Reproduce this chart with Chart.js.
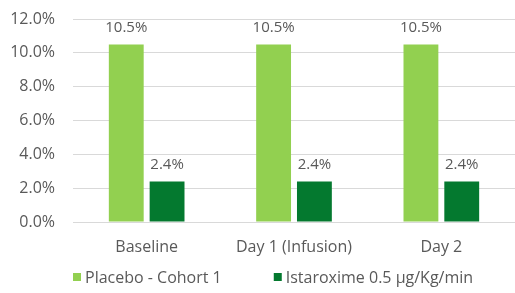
<!DOCTYPE html>
<html>
<head>
<meta charset="utf-8">
<script src="https://cdn.jsdelivr.net/npm/chart.js@4/dist/chart.umd.min.js"></script>
<style>
  html, body { margin: 0; padding: 0; background: #fff; }
  #wrap { width: 515px; height: 293px; }
</style>
</head>
<body>
<div id="wrap"><canvas id="chart" width="515" height="293"></canvas></div>
<script>
const categories = ['Baseline', 'Day 1 (Infusion)', 'Day 2'];
const placeboValues = [10.5, 10.5, 10.5];
const istaroximeValues = [2.4, 2.4, 2.4];
const seriesNames = ['Placebo - Cohort 1', 'Istaroxime 0.5 µg/Kg/min'];
const seriesColors = ['#92D050', '#04792F'];
const yMin = 0;
const yMax = 12;
const yStep = 2;

const FONT = '"Open Sans", "Noto Sans", sans-serif';
const TEXT = '#595959';

// draws the value above each bar
const barLabels = {
  id: 'barLabels',
  afterDatasetsDraw(chart) {
    const ctx = chart.ctx;
    ctx.save();
    ctx.font = '15px ' + FONT;
    ctx.fillStyle = TEXT;
    ctx.textAlign = 'center';
    ctx.textBaseline = 'alphabetic';
    chart.data.datasets.forEach((ds, i) => {
      chart.getDatasetMeta(i).data.forEach((bar, j) => {
        ctx.fillText(ds.data[j].toFixed(1) + '%', bar.x, bar.y - 12);
      });
    });
    ctx.restore();
  }
};

// legend drawn by hand so the gap between items matches the original
const bottomLegend = {
  id: 'bottomLegend',
  afterDraw(chart) {
    const ctx = chart.ctx;
    const box = 8, gapText = 4, gapItem = 52, y = 277;
    ctx.save();
    ctx.font = '16px ' + FONT;
    ctx.textBaseline = 'middle';
    ctx.textAlign = 'left';
    let x = chart.chartArea.left;
    chart.data.datasets.forEach(ds => {
      ctx.fillStyle = ds.backgroundColor;
      ctx.fillRect(x, y - box / 2, box, box);
      ctx.fillStyle = TEXT;
      ctx.fillText(ds.label, x + box + gapText, y + 1);
      x += box + gapText + ctx.measureText(ds.label).width + gapItem;
    });
    ctx.restore();
  }
};

new Chart(document.getElementById('chart'), {
  type: 'bar',
  data: {
    labels: categories,
    datasets: [
      {
        label: seriesNames[0],
        data: placeboValues,
        backgroundColor: seriesColors[0],
        barPercentage: 0.854,
        categoryPercentage: 0.554
      },
      {
        label: seriesNames[1],
        data: istaroximeValues,
        backgroundColor: seriesColors[1],
        barPercentage: 0.854,
        categoryPercentage: 0.554
      }
    ]
  },
  options: {
    responsive: false,
    devicePixelRatio: 1,
    animation: false,
    layout: { padding: { top: 19, right: 0, left: 0, bottom: 36 } },
    plugins: {
      tooltip: { enabled: false },
      legend: { display: false }
    },
    scales: {
      x: {
        grid: { display: false, drawTicks: false },
        border: { color: '#D9D9D9' },
        afterFit(scale) { scale.height = 35; },
        ticks: { color: TEXT, padding: 16, font: { family: FONT, size: 16 } }
      },
      y: {
        min: yMin,
        max: yMax,
        grid: { color: '#D9D9D9', drawTicks: false },
        border: { display: false },
        afterFit(scale) {
          scale.width = 73;
          // tick padding is only meant horizontally here
          scale.paddingTop = 10;
          scale.paddingBottom = 10;
        },
        ticks: {
          stepSize: yStep,
          padding: 18,
          color: TEXT,
          font: { family: FONT, size: 16 },
          callback: function(value) {
            return value.toFixed(1) + '%';
          }
        }
      }
    }
  },
  plugins: [barLabels, bottomLegend]
});
</script>
</body>
</html>
